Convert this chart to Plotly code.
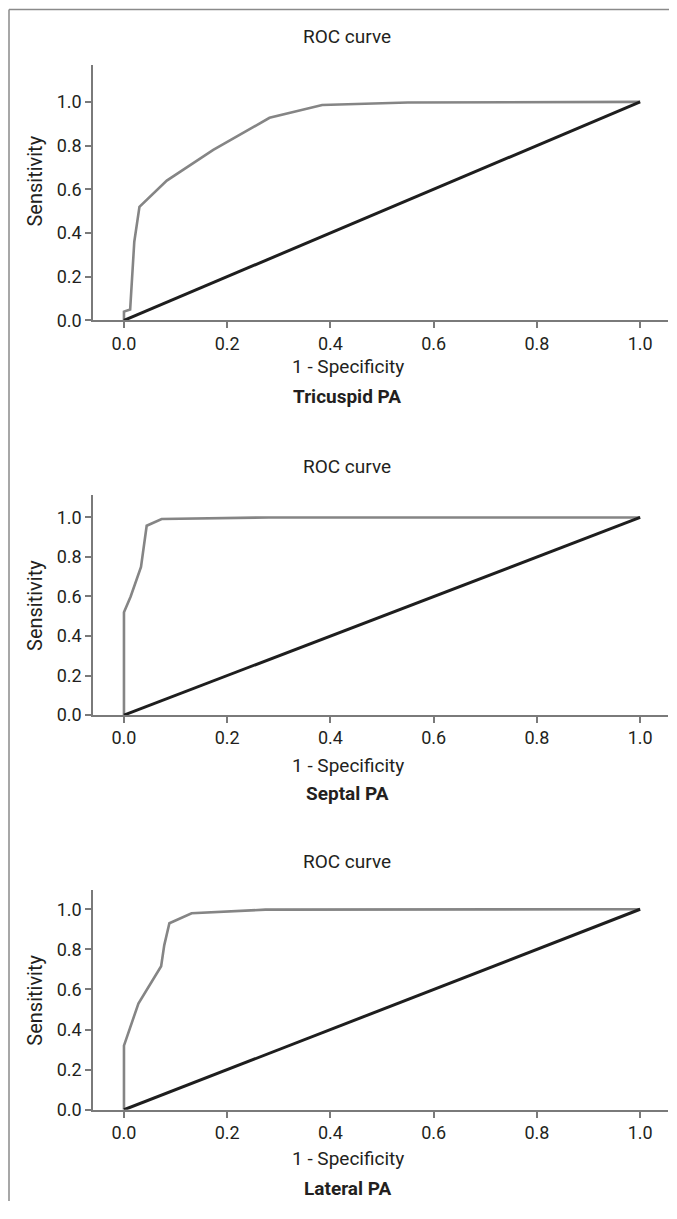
import plotly.graph_objects as go

# ---- data ----
tri_fpr = [0.0, 0.0, 0.012, 0.020, 0.030, 0.083, 0.173, 0.282, 0.384, 0.55, 1.0]
tri_tpr = [0.0, 0.04, 0.05, 0.36, 0.52, 0.64, 0.78, 0.927, 0.986, 0.997, 1.0]

sep_fpr = [0.0, 0.0, 0.013, 0.033, 0.044, 0.073, 0.28, 0.70, 1.0]
sep_tpr = [0.0, 0.52, 0.60, 0.75, 0.958, 0.992, 1.0, 1.0, 1.0]

lat_fpr = [0.0, 0.0, 0.028, 0.072, 0.078, 0.088, 0.131, 0.274, 1.0]
lat_tpr = [0.0, 0.32, 0.53, 0.716, 0.82, 0.93, 0.98, 0.998, 1.0]

ref_x = [0.0, 1.0]
ref_y = [0.0, 1.0]

panel_names = ["Tricuspid PA", "Septal PA", "Lateral PA"]
tick_vals = [0.0, 0.2, 0.4, 0.6, 0.8, 1.0]
tick_text = ["0.0", "0.2", "0.4", "0.6", "0.8", "1.0"]

# page has an 8px body margin; figure sized to fit the 677x1219 window
OFF = 8
W, H = 677 - 2 * OFF, 1219 - 2 * OFF
FONT = "Liberation Sans Narrow, Arial Narrow, Roboto, sans-serif"
TXT = "#231f20"
AX = "#7a7a7a"

def fx(x):
    return (x - OFF) / W

def fy(y):
    return 1 - (y - OFF) / H

panels = [
    dict(fx=tri_fpr, fy=tri_tpr, top=65, bot=323, ymax=1.171, title_y=37, xt_y=370, name_y=400, yt_y=182),
    dict(fx=sep_fpr, fy=sep_tpr, top=499, bot=721, ymax=1.114, title_y=470, xt_y=772, name_y=800, yt_y=610),
    dict(fx=lat_fpr, fy=lat_tpr, top=897, bot=1119, ymax=1.098, title_y=869, xt_y=1168, name_y=1198, yt_y=1008),
]

fig = go.Figure()
annotations = []
layout_axes = {}
for i, (p, nm) in enumerate(zip(panels, panel_names)):
    k = "" if i == 0 else str(i + 1)
    xa, ya = "x" + k, "y" + k
    fig.add_trace(go.Scatter(x=p["fx"], y=p["fy"], mode="lines", xaxis=xa, yaxis=ya,
                             line=dict(color="#858585", width=2.6), showlegend=False, hoverinfo="skip"))
    fig.add_trace(go.Scatter(x=ref_x, y=ref_y, mode="lines", xaxis=xa, yaxis=ya,
                             line=dict(color="#1e1e1e", width=3), showlegend=False, hoverinfo="skip"))
    common = dict(showgrid=False, zeroline=False, showline=True, linecolor=AX, linewidth=1.5,
                  ticks="outside", ticklen=6, tickwidth=1.5, tickcolor=AX,
                  tickvals=tick_vals, ticktext=tick_text,
                  tickfont=dict(family=FONT, size=18, color=TXT), fixedrange=True)
    layout_axes["xaxis" + k] = dict(common, domain=[fx(93), fx(668)], range=[-0.060, 1.054],
                                    anchor=ya)
    layout_axes["yaxis" + k] = dict(common, domain=[fy(p["bot"]), fy(p["top"])], range=[0, p["ymax"]],
                                    anchor=xa)
    annotations += [
        dict(text="ROC curve", x=fx(347), y=fy(p["title_y"]), xref="paper", yref="paper",
             showarrow=False, xanchor="center", yanchor="middle",
             font=dict(family=FONT, size=19, color=TXT)),
        dict(text="1 - Specificity", x=fx(348), y=fy(p["xt_y"]), xref="paper", yref="paper",
             showarrow=False, xanchor="center", yanchor="middle",
             font=dict(family=FONT, size=19, color=TXT)),
        dict(text="<b>" + nm + "</b>", x=fx(347), y=fy(p["name_y"]), xref="paper", yref="paper",
             showarrow=False, xanchor="center", yanchor="middle",
             font=dict(family=FONT, size=19, color=TXT)),
        dict(text="Sensitivity", x=fx(35), y=fy(p["yt_y"]), xref="paper", yref="paper",
             showarrow=False, xanchor="center", yanchor="middle", textangle=-90,
             font=dict(family=FONT, size=20, color=TXT)),
    ]

fig.update_layout(
    width=W, height=H, margin=dict(l=0, r=0, t=0, b=0),
    paper_bgcolor="white", plot_bgcolor="white",
    annotations=annotations,
    shapes=[
        dict(type="line", xref="paper", yref="paper", x0=fx(9), x1=1, y0=fy(9.5), y1=fy(9.5),
             line=dict(color="#8a8a8a", width=1.5)),
        dict(type="line", xref="paper", yref="paper", x0=fx(9), x1=fx(9), y0=fy(9.5), y1=0,
             line=dict(color="#8a8a8a", width=1.5)),
    ],
    **layout_axes,
)

fig.write_html("out.html", config=dict(displayModeBar=False))
